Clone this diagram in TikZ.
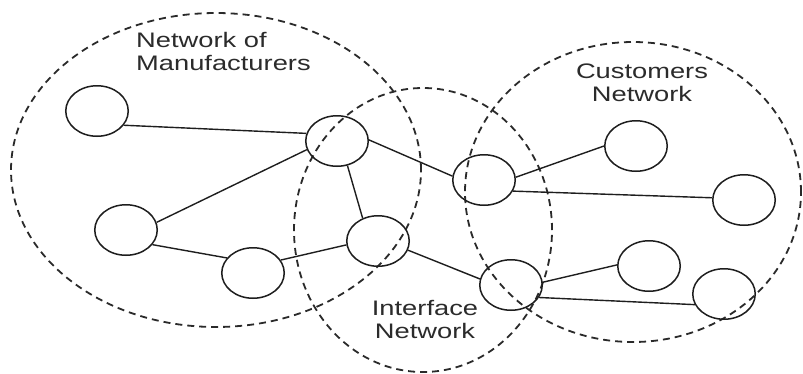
\documentclass[tikz,border=0pt]{standalone}
\usepackage{fontspec}
\newfontfamily\labelfont[FakeStretch=1.3]{Liberation Sans}
\usetikzlibrary{shapes.geometric}
\definecolor{linecol}{HTML}{1E1E1E}
\definecolor{dashcol}{HTML}{2A2A2A}
\definecolor{textcol}{HTML}{2B2B2B}
\begin{document}
\begin{tikzpicture}[x=1pt,y=-1pt,
  netnode/.style={ellipse, draw=linecol, line width=1.5pt, minimum width=62.5pt, minimum height=50.5pt, inner sep=0pt},
  link/.style={draw=linecol, line width=1.4pt},
  region/.style={draw=dashcol, line width=1.8pt, dash pattern=on 7pt off 5pt},
  lbl/.style={font=\labelfont\fontsize{21}{23}\selectfont, text=textcol, inner sep=0pt}]
\useasboundingbox[fill=white] (0,0) rectangle (803,373);

% regions
\draw[region] (216,170) ellipse [x radius=205pt, y radius=157pt];
\draw[region] (423,230) ellipse [x radius=129pt, y radius=142pt];
\draw[region] (633,192) ellipse [x radius=168pt, y radius=150pt];

% labels
\node[lbl, anchor=north west, align=left] (lman) at (136,31.7) {Network of\\Manufacturers};
\node[lbl, anchor=north, align=center] (lcus) at (642,63.7) {Customers\\Network};
\node[lbl, anchor=north, align=center] (lint) at (425,299.7) {Interface\\Network};

% nodes
\node[netnode] (A) at (97,111) {};
\node[netnode] (B) at (337,141) {};
\node[netnode] (C) at (484,180) {};
\node[netnode] (D) at (636,146) {};
\node[netnode] (E) at (744,200) {};
\node[netnode] (F) at (126,230) {};
\node[netnode] (G) at (253,273) {};
\node[netnode] (H) at (378,241) {};
\node[netnode] (I) at (511,285) {};
\node[netnode] (J) at (649,266) {};
\node[netnode] (K) at (724,294) {};

% links
\draw[link] (A.-28) -- (B.166);
\draw[link] (B.196) -- (F.14);
\draw[link] (B.-67) -- (H.124);
\draw[link] (B.2) -- (C.173);
\draw[link] (F.-29) -- (G.150);
\draw[link] (G.25) -- (H.187);
\draw[link] (H.-17) -- (I.169);
\draw[link] (C.5) -- (D.180);
\draw[link] (C.-21) -- (E.176);
\draw[link] (I.5) -- (J.178);
\draw[link] (I.-24) -- (K.200);
\end{tikzpicture}
\end{document}
